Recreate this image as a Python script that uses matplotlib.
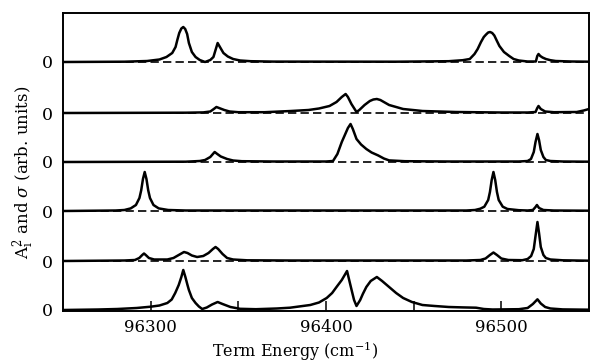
import numpy as np
import matplotlib
matplotlib.use("Agg")
import matplotlib.pyplot as plt

plt.rcParams['font.family'] = ['DejaVu Serif']
plt.rcParams['mathtext.fontset'] = 'dejavuserif'

# term energy (cm^-1) and curve height (arb. units) for each trace, top to bottom
x1 = [96250, 96285, 96298, 96305, 96309, 96312.3, 96314.2, 96315.2, 96316.3, 96317.5, 96318.6,
      96319.7, 96320.8, 96321.8, 96323.5, 96325.6, 96328, 96331, 96334, 96335.8, 96337, 96338.2,
      96339.5, 96341.5, 96344, 96347, 96351, 96357, 96370, 96440, 96470, 96478, 96482, 96484.7,
      96486.5, 96488.4, 96490, 96491.3, 96492.5, 96493.6, 96494.8, 96496, 96497.5, 96498.9,
      96501.5, 96504.5, 96507, 96510, 96515, 96519.7, 96520.5, 96521.2, 96522.2, 96523.5,
      96525.4, 96528, 96531, 96540, 96550]
y1 = [0, 0.3, 1, 2.5, 5, 9, 15, 22, 29, 33.5, 35,
      33, 28, 19, 10, 5, 2, 0, 2, 5, 12, 19,
      15, 9, 5.5, 3, 1.5, 0.8, 0.4, 0.3, 0.8, 1.8, 3, 8,
      13, 20, 25, 27.5, 29.5, 30, 29, 26.5, 21, 16,
      10, 6, 3, 1.5, 0.5, 0.5, 6, 8, 6, 4.5,
      3, 1.8, 1, 0.5, 0.3]

x2 = [96250, 96320, 96330, 96334, 96336, 96337.5, 96339, 96342, 96345, 96350, 96365, 96380,
      96390, 96396, 96402, 96406, 96409, 96411.2, 96412.5, 96414.5, 96417.4, 96419, 96422,
      96425, 96427, 96429, 96431, 96436, 96440, 96444, 96455, 96474, 96500, 96515, 96519.5,
      96520.5, 96521.2, 96522.5, 96525, 96530, 96543, 96547, 96550]
y2 = [0, 0.3, 0.6, 1.5, 4, 6, 5, 3, 1.5, 0.8, 0.8, 2,
      3, 4.5, 7, 11, 16, 19, 16, 9, 1, 3, 8,
      12, 13.5, 14, 13, 8, 6, 4, 2, 1, 0.5, 0.5, 1,
      5, 7, 4, 1.5, 0.8, 1, 2.5, 4]

x3 = [96250, 96320, 96328, 96331, 96334, 96336.5, 96338, 96340, 96343.6, 96347, 96352, 96370,
      96400, 96404, 96406.5, 96409, 96411, 96412.5, 96414, 96415.3, 96417.4, 96420, 96423,
      96426, 96429.7, 96433, 96436, 96445, 96470, 96510, 96515, 96516.9, 96518.5, 96519.5,
      96520.6, 96521.5, 96522.5, 96524, 96525.4, 96528, 96535, 96550]
y3 = [0, 0.3, 1, 2, 5, 10, 8, 5.5, 3, 1.5, 0.8, 0.5,
      0.5, 1, 8, 20, 28, 34, 38, 33, 23, 17.5, 13,
      9.5, 6.6, 3.5, 1.6, 0.8, 0.5, 0.5, 1, 3, 10, 20,
      28, 22, 12, 5, 2, 1, 0.5, 0.3]

x4 = [96250, 96280, 96285, 96288.6, 96291.6, 96293.6, 96294.6, 96295.6, 96296.6, 96297.6,
      96298.6, 96299.6, 96301.6, 96304.6, 96310, 96320, 96480, 96485, 96488, 96490.3, 96492.5,
      96493.5, 96494.5, 96495.5, 96496.5, 96497.5, 96498.5, 96500.8, 96503.5, 96510, 96515,
      96518, 96519.5, 96520.3, 96521.5, 96524, 96530, 96550]
y4 = [0, 0.5, 1, 2.6, 6, 13, 20.7, 32, 39, 32,
      20.7, 13, 6, 2.6, 1, 0.5, 0.5, 1, 2.3, 4.3, 11,
      19, 31, 39, 31, 19, 11, 4.3, 2, 0.8, 0.5,
      1, 4, 6, 3, 1, 0.5, 0.3]

x5 = [96250, 96285, 96291, 96293.5, 96295.2, 96296.2, 96297.2, 96299, 96302, 96309.5, 96313,
      96316, 96319, 96321, 96323.5, 96326.5, 96330, 96333, 96335.5, 96337, 96338.5, 96341,
      96343.6, 96347, 96355, 96380, 96480, 96488, 96491, 96493.5, 96495.5, 96497.5, 96500,
      96504, 96512, 96515, 96517, 96518.5, 96519.5, 96520.6, 96521.5, 96522.5, 96524, 96525.4,
      96528, 96535, 96550]
y5 = [0, 0.5, 1, 3, 6, 7.5, 6, 3, 1.5, 1.5, 3,
      6, 9, 8, 5.5, 4, 5, 8, 12, 14, 12, 7,
      3, 1.5, 0.7, 0.5, 0.5, 1, 2.5, 6, 8.5, 6, 2.5,
      1, 0.8, 2, 5, 12, 25, 39, 28, 14, 6, 3,
      1.5, 0.7, 0.3]

x6 = [96250, 96270, 96281, 96292, 96300, 96305, 96309.5, 96312, 96314, 96316, 96317.5, 96318.6,
      96319.8, 96321, 96321.8, 96323.5, 96325.6, 96327.5, 96329.4, 96332, 96335, 96338.2,
      96341, 96345.5, 96351, 96360, 96372, 96379.5, 96391, 96396, 96400.4, 96403.5, 96406,
      96409, 96412, 96413.5, 96414.6, 96416, 96417.4, 96419.5, 96421, 96423, 96425.5, 96429,
      96432, 96436, 96440, 96444, 96449, 96455, 96462, 96470, 96478, 96485.6, 96490, 96495,
      96510, 96515, 96518, 96520.6, 96522.5, 96525, 96528, 96535, 96550]
y6 = [0, 0.5, 1, 2, 3.3, 4.5, 7, 10.5, 17, 25, 33, 40,
      33, 25, 20, 12, 7, 3.5, 1, 2.5, 5.5, 8,
      6, 3, 1.2, 0.8, 1.5, 2.3, 5, 7.5, 12, 17, 23,
      30, 39, 28, 20, 10, 4, 10, 16, 23, 29, 33,
      29, 23, 17, 12, 8, 5, 4, 3, 2.6, 2.3, 1, 0.5,
      0.8, 2, 6, 10.7, 6.5, 3, 1.5, 0.6, 0.3]

traces = [(x1, y1), (x2, y2), (x3, y3), (x4, y4), (x5, y5), (x6, y6)]
baselines = [248, 197, 148, 99, 49, 0]

major_ticks = [96300, 96400, 96500]
minor_ticks = [96350, 96450]

fig = plt.figure(figsize=(5.92, 3.62), dpi=100)
ax = fig.add_axes([63 / 592, 1 - 311 / 362, 526 / 592, 298 / 362])

for (xs, ys), base in zip(traces, baselines):
    if base > 0:
        ax.axhline(base, color='black', lw=1.2, dashes=(5, 2.5), zorder=1)
    ax.plot(xs, np.array(ys) + base, color='black', lw=1.8, zorder=2)

ax.set_xlim(96250, 96550)
ax.set_ylim(-1, 297)

ax.set_xticks(major_ticks)
ax.set_xticks(minor_ticks, minor=True)
ax.tick_params(axis='x', which='both', direction='in', length=7, width=1.1,
               pad=6, labelsize=12)
ax.set_yticks(baselines)
ax.set_yticklabels(['0'] * len(baselines))
ax.tick_params(axis='y', direction='in', length=3, width=1.3, pad=7, labelsize=12.5)

for side in ['left', 'right', 'top', 'bottom']:
    ax.spines[side].set_linewidth(1.4)

fig.text(24 / 592, 1 - 172 / 362, r'A$_{\mathrm{i}}^{2}$ and $\sigma$ (arb. units)',
         rotation=90, ha='center', va='center', fontsize=12)
fig.text(295 / 592, 1 - 351 / 362, r'Term Energy (cm$^{-1}$)',
         ha='center', va='center', fontsize=11.5)

fig.savefig('out.png', dpi=100)
